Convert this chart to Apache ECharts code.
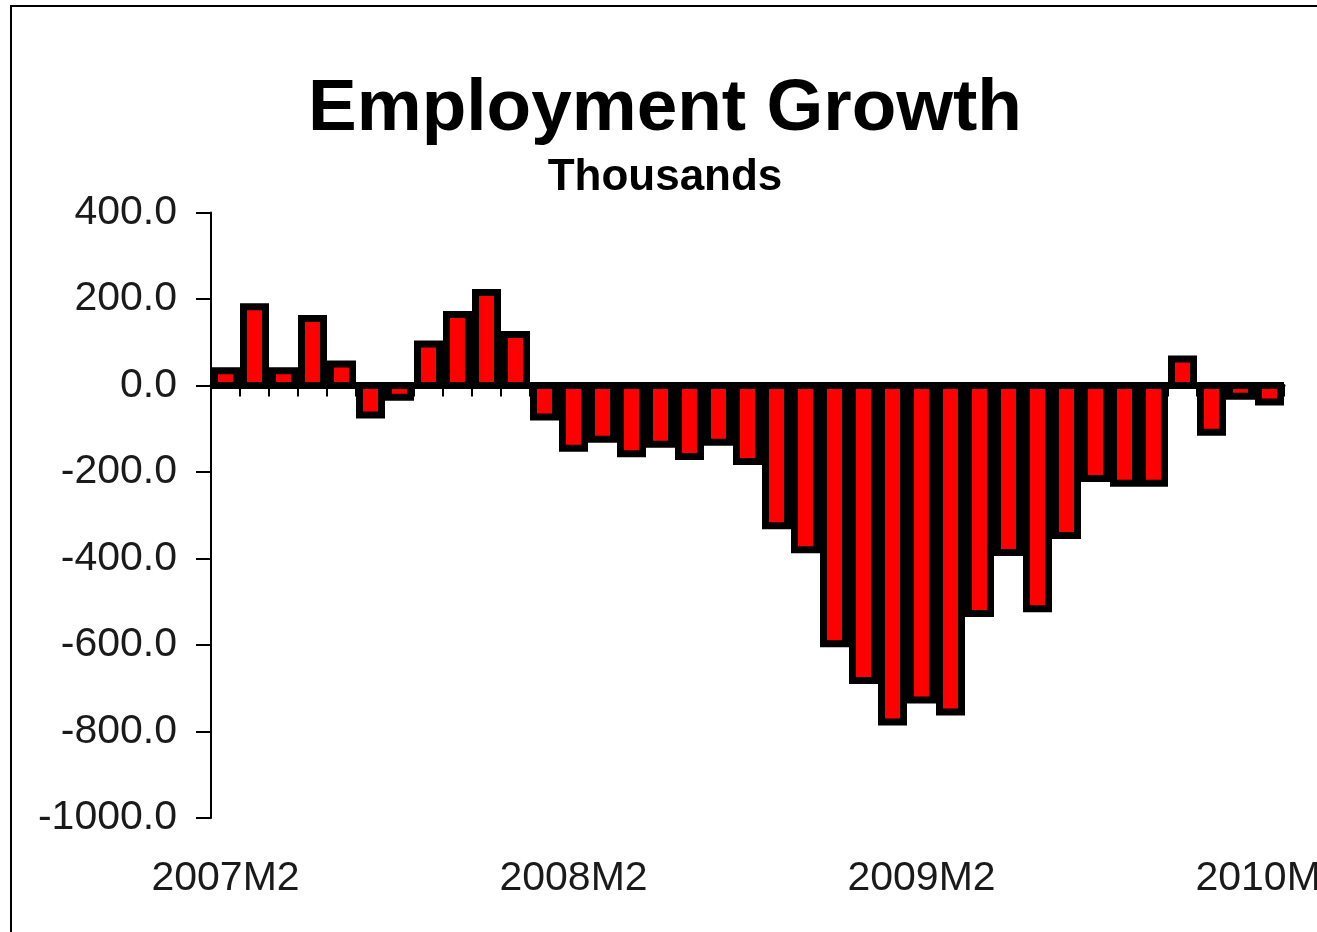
<!DOCTYPE html>
<html>
<head>
<meta charset="utf-8">
<script src="https://cdn.jsdelivr.net/npm/echarts@6/dist/echarts.min.js"></script>
<style>
html,body{margin:0;padding:0;background:#fff;overflow:hidden;}
#chart{width:1317px;height:932px;}
</style>
</head>
<body>
<div id="chart"></div>
<script>
// Data
var categories = [
  '2007M2','2007M3','2007M4','2007M5','2007M6','2007M7','2007M8','2007M9','2007M10','2007M11','2007M12',
  '2008M1','2008M2','2008M3','2008M4','2008M5','2008M6','2008M7','2008M8','2008M9','2008M10','2008M11','2008M12',
  '2009M1','2009M2','2009M3','2009M4','2009M5','2009M6','2009M7','2009M8','2009M9','2009M10','2009M11','2009M12',
  '2010M1','2010M2'
];
var employmentChange = [
  34, 182, 34, 155, 50, -68, -27, 96, 164, 215, 118,
  -73, -145, -124, -158, -136, -164, -131, -176, -324, -380, -597, -682,
  -778, -727, -755, -527, -386, -516, -347, -215, -226, -226, 61, -108,
  -25, -38
];
var yMin = -1000, yMax = 400, yStep = 200;
var titleText = 'Employment Growth';
var subtitleText = 'Thousands';

var FONT = "'Liberation Sans', Arial, Helvetica, sans-serif";
var BAR_RATIO = 22 / 29;
var chart = echarts.init(document.getElementById('chart'), null, {renderer: 'canvas'});

function renderBar(params, api) {
  var idx = api.value(0);
  var val = api.value(1);
  var p0 = api.coord([idx, 0]);
  var p1 = api.coord([idx, val]);
  var w = api.size([1, 0])[0] * BAR_RATIO;
  var y = Math.min(p0[1], p1[1]);
  var h = Math.abs(p1[1] - p0[1]);
  return {
    type: 'rect',
    shape: {x: p0[0] - w / 2, y: y, width: w, height: h},
    style: {fill: '#ff0000', stroke: '#000000', lineWidth: 7}
  };
}

chart.setOption({
  animation: false,
  backgroundColor: '#ffffff',
  graphic: [
    {type: 'rect', shape: {x: 11, y: 6, width: 1400, height: 1000},
     style: {fill: 'none', stroke: '#000', lineWidth: 2}, z: 10, silent: true},
    {type: 'text', x: 665, y: 110, style: {text: titleText, font: 'bold 73px ' + FONT, fill: '#000', textAlign: 'center', textVerticalAlign: 'middle'}},
    {type: 'text', x: 665, y: 178, style: {text: subtitleText, font: 'bold 44px ' + FONT, fill: '#000', textAlign: 'center', textVerticalAlign: 'middle'}}
  ],
  grid: {left: 211, right: 33, top: 212.5, bottom: 114, containLabel: false, outerBoundsMode: 'none'},
  xAxis: [
    {
      type: 'category', data: categories, boundaryGap: true,
      axisLine: {show: true, onZero: true, lineStyle: {color: '#000', width: 3}},
      axisTick: {show: true, interval: 0, length: 11, lineStyle: {color: '#000', width: 2}},
      axisLabel: {show: false},
      splitLine: {show: false}
    },
    {
      type: 'category', data: categories, boundaryGap: true, position: 'bottom',
      axisLine: {show: false, onZero: false}, axisTick: {show: false},
      axisLabel: {show: true, interval: 11, fontSize: 41, fontFamily: FONT, color: '#1a1a1a', margin: 40},
      splitLine: {show: false}
    }
  ],
  yAxis: {
    type: 'value', min: yMin, max: yMax, interval: yStep,
    axisLine: {show: true, lineStyle: {color: '#000', width: 2}},
    axisTick: {show: true, length: 15, lineStyle: {color: '#000', width: 2}},
    axisLabel: {fontSize: 41, fontFamily: FONT, color: '#1a1a1a', margin: 34,
      formatter: function (v) { return v.toFixed(1); }},
    splitLine: {show: false}
  },
  series: [{
    type: 'custom', xAxisIndex: 0, yAxisIndex: 0,
    data: employmentChange.map(function (v, i) { return [i, v]; }),
    encode: {x: 0, y: 1},
    renderItem: renderBar,
    clip: false
  }]
});
</script>
</body>
</html>
